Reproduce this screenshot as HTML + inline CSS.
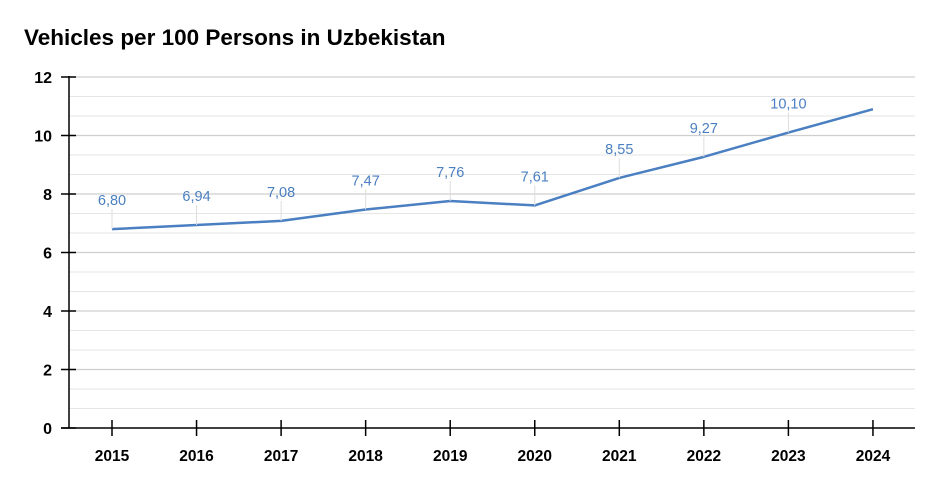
<!DOCTYPE html>
<html><head><meta charset="utf-8"><style>body{margin:0;background:#fff}svg{display:block}</style></head>
<body>
<svg width="940" height="490" xmlns="http://www.w3.org/2000/svg" font-family="Liberation Sans, sans-serif">
<text x="24" y="45" font-size="22.5" font-weight="bold" fill="#000">Vehicles per 100 Persons in Uzbekistan</text>
<g id="grid"></g>
<g stroke="#000" stroke-width="1.5">
<line x1="69" y1="76" x2="69" y2="428"/>
<line x1="61" y1="428" x2="915" y2="428"/>
</g>
<g id="ticks"></g>
<polyline id="line" fill="none" stroke="#4a7fc1" stroke-width="2.5" stroke-linejoin="round"/>
<g id="labels"></g>
</svg>
<script>
const ns="http://www.w3.org/2000/svg";
function el(p,t,a,txt){const e=document.createElementNS(ns,t);for(const k in a)e.setAttribute(k,a[k]);if(txt)e.textContent=txt;document.getElementById(p).appendChild(e);return e;}
const Y=v=>428-v*29.25, X=i=>112+i*84.55;
for(let k=1;k<=18;k++){const v=k*2/3,y=Y(v);const maj=k%3==0;
 el('grid','line',{x1:69,x2:915,y1:y,y2:y,stroke:maj?'#cfcfcf':'#e6e6e6','stroke-width':maj?1.3:1.1});}
for(let k=0;k<=6;k++){const y=Y(k*2);el('ticks','line',{x1:61,x2:76,y1:y,y2:y,stroke:'#000','stroke-width':1.5});
 el('ticks','text',{x:52,y:y+6,'text-anchor':'end','font-size':16,'font-weight':'bold'},String(k*2));}
const vals=[6.80,6.94,7.08,7.47,7.76,7.61,8.55,9.27,10.10,10.90];
vals.forEach((v,i)=>{const x=X(i);
 el('ticks','line',{x1:x,x2:x,y1:420,y2:436,stroke:'#000','stroke-width':1.5});
 el('ticks','text',{x:x,y:461,'text-anchor':'middle','font-size':15.5,'font-weight':'bold'},String(2015+i));
 if(i<9){const y=Y(v);
  el('labels','line',{x1:x,x2:x,y1:y-20,y2:y,stroke:'#ddd','stroke-width':1});
  el('labels','text',{x:x,y:y-24,'text-anchor':'middle','font-size':14.5,fill:'#4a7fc1'},v.toFixed(2).replace('.',','));}
});
document.getElementById('line').setAttribute('points',vals.map((v,i)=>X(i)+','+Y(v)).join(' '));
</script>
</body></html>
